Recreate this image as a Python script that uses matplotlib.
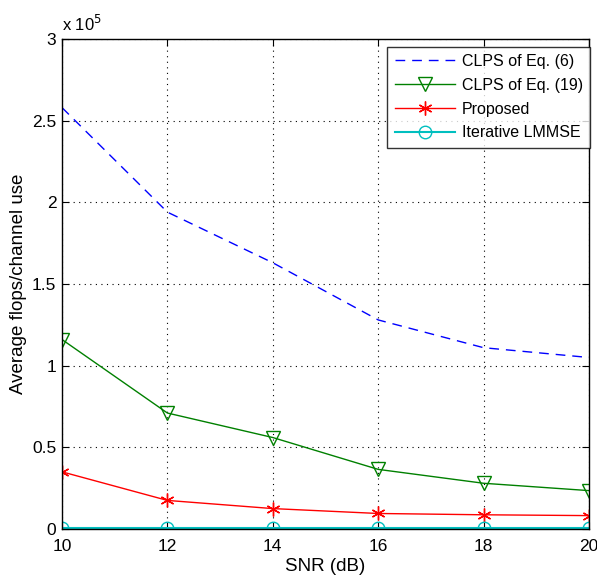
import matplotlib
matplotlib.use("Agg")
import matplotlib.pyplot as plt
from matplotlib.ticker import FuncFormatter, MultipleLocator

plt.rcParams['font.family'] = ['Liberation Sans', 'DejaVu Sans']

snr = [10, 12, 14, 16, 18, 20]
clps6 = [2.58e5, 1.94e5, 1.63e5, 1.28e5, 1.11e5, 1.05e5]
clps19 = [1.16e5, 0.71e5, 0.56e5, 0.365e5, 0.28e5, 0.235e5]
proposed = [0.35e5, 0.175e5, 0.125e5, 0.095e5, 0.087e5, 0.082e5]
lmmse = [0.008e5, 0.008e5, 0.008e5, 0.008e5, 0.008e5, 0.008e5]
labels = ['CLPS of Eq. (6)', 'CLPS of Eq. (19)', 'Proposed', 'Iterative LMMSE']

fig = plt.figure(figsize=(5.97, 5.79), dpi=100)
ax = fig.add_axes([62/597, 50/579, (589-62)/597, (529-39)/579])

ax.plot(snr, clps6, color=(0, 0, 1), linestyle=(0, (7, 5)), lw=1, label=labels[0])
ax.plot(snr, clps19, color=(0, 0.5, 0), lw=1, marker='v', ms=10, mfc='none', mew=1, label=labels[1])
ax.plot(snr, proposed, color=(1, 0, 0), lw=1, marker=(6, 2, 0), ms=10, mew=1, label=labels[2])
ax.plot(snr, lmmse, color=(0, 0.75, 0.75), lw=1.5, marker='o', ms=9, mfc='none', mew=1, label=labels[3])

ax.set_xlim(10, 20)
ax.set_ylim(0, 3e5)
ax.xaxis.set_major_locator(MultipleLocator(2))
ax.yaxis.set_major_locator(MultipleLocator(0.5e5))
ax.yaxis.set_major_formatter(FuncFormatter(lambda v, p: ('%g' % (v / 1e5))))
ax.tick_params(direction='in', top=True, right=True, labelsize=12.5, length=5, width=0.8)
ax.tick_params(axis='x', pad=7)
ax.tick_params(axis='y', pad=4)
ax.grid(True, linestyle=(0, (1, 4)), color='k', lw=0.8)
for s in ax.spines.values():
    s.set_linewidth(1)

ax.text(0.0, 1.01, 'x 10$^{5}$', transform=ax.transAxes, fontsize=12, ha='left', va='bottom')
ax.set_xlabel('SNR (dB)', fontsize=13.5, labelpad=3)
ax.set_ylabel('Average flops/channel use', fontsize=13.5, labelpad=4)

leg = ax.legend(loc='upper right', fontsize=11.5, frameon=True, fancybox=False, edgecolor='k',
                handlelength=3.8, borderpad=0.45, labelspacing=0.55, handletextpad=0.4,
                borderaxespad=0, bbox_to_anchor=(1.002, 0.984))
leg.get_frame().set_linewidth(1)

fig.savefig('out.png', dpi=100)
